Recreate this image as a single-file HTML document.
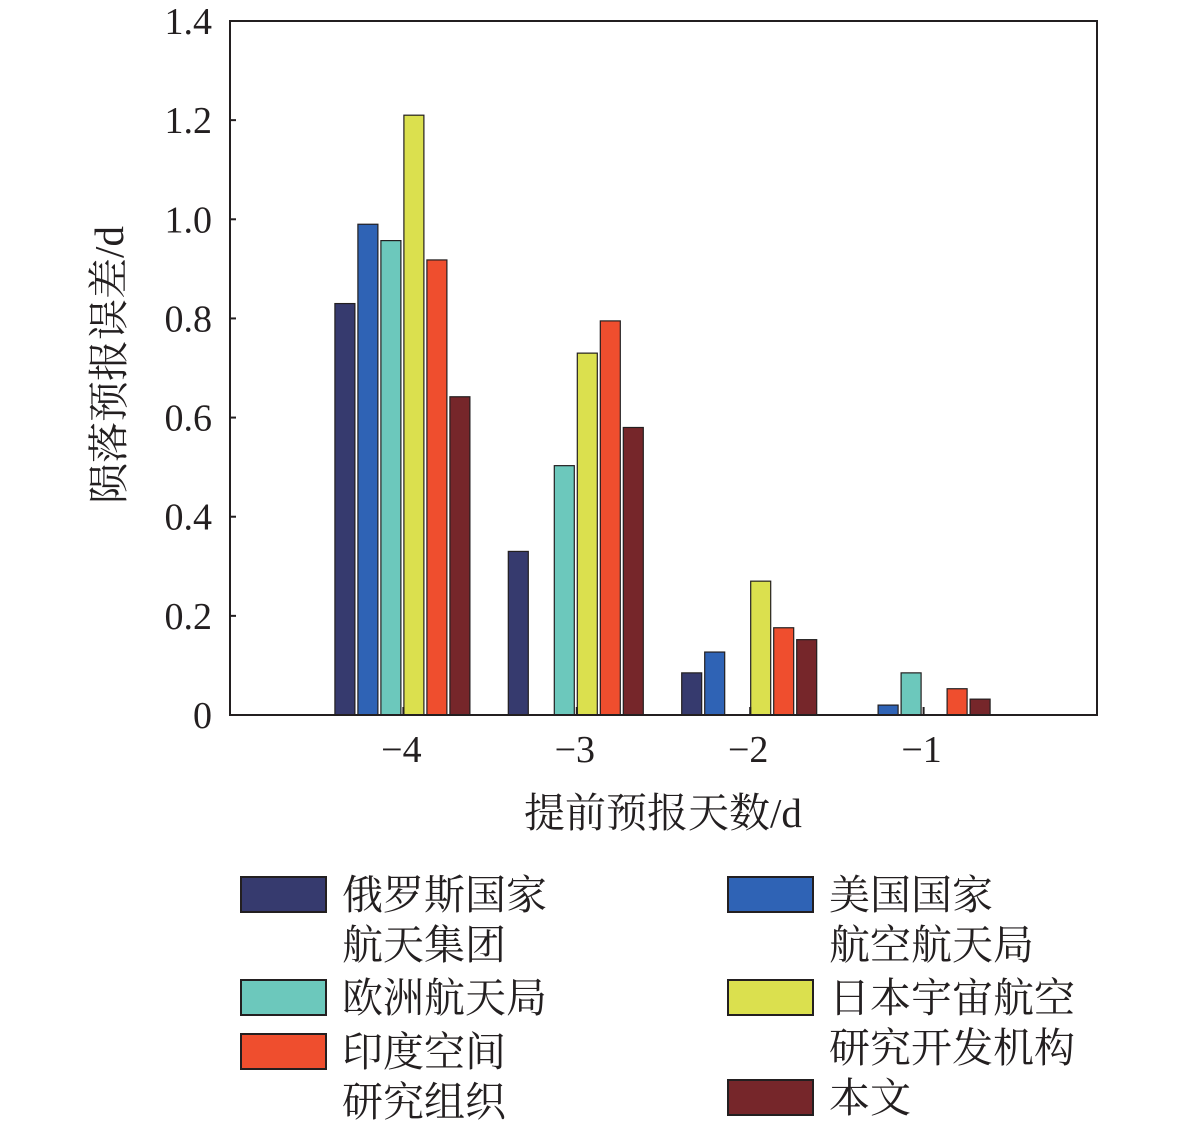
<!DOCTYPE html>
<html><head><meta charset="utf-8"><style>
body{margin:0;background:#fff;}
text{font-family:"Liberation Serif","Noto Serif CJK SC",serif;fill:#231f20;}
</style></head><body>
<svg id="c" width="1181" height="1123" xmlns="http://www.w3.org/2000/svg"></svg>
<script>
const categories=[-4,-3,-2,-1];
const seriesNames=[["俄罗斯国家","航天集团"],["美国国家","航空航天局"],["欧洲航天局"],["日本宇宙航空","研究开发机构"],["印度空间","研究组织"],["本文"]];
const russia=[0.83,0.33,0.085,0];
const usa=[0.99,0,0.127,0.02];
const esa=[0.957,0.503,0,0.085];
const jaxa=[1.21,0.73,0.27,0];
const isro=[0.918,0.795,0.176,0.053];
const ours=[0.642,0.58,0.152,0.032];
const yTicks=[0,0.2,0.4,0.6,0.8,1.0,1.2,1.4];
const yTickLabels=["0","0.2","0.4","0.6","0.8","1.0","1.2","1.4"];
const xTickLabels=["−4","−3","−2","−1"];
const series=[russia,usa,esa,jaxa,isro,ours];
const colors=["#363a6e","#2f63b5","#6cc8bc","#dbe04e","#ef4e2e","#76262a"];
const svg=document.getElementById('c');
const NS="http://www.w3.org/2000/svg";
const L=230,R=1097,T=21,B=715;
const x=v=>L+(v+5)/5*(R-L);
const y=v=>B-v/1.4*(B-T);
function mk(t,a,txt){const e=document.createElementNS(NS,t);for(const k in a)e.setAttribute(k,a[k]);if(txt!==undefined)e.textContent=txt;svg.appendChild(e);return e;}
categories.forEach((c,ci)=>{
  series.forEach((s,si)=>{
    if(s[ci]<=0)return;
    const cx=x(c)+(si-2.5)*23-1;
    const r=mk('rect',{x:cx-10,y:y(s[ci]),width:20,height:B-y(s[ci]),fill:colors[si],stroke:"#231f20","stroke-width":1.2});
    
    
  });
});
const frame=mk('rect',{x:L,y:T,width:R-L,height:B-T,fill:"none",stroke:"#231f20","stroke-width":2});


yTicks.forEach((v,i)=>{
  mk('line',{x1:L,x2:L+6,y1:y(v),y2:y(v),stroke:"#231f20","stroke-width":2});
  const t=mk('text',{x:212,y:y(v)+13,"text-anchor":"end","font-size":38},yTickLabels[i]);
  
  
});
categories.forEach((c,i)=>{
  mk('line',{x1:x(c),x2:x(c),y1:B,y2:B-8,stroke:"#231f20","stroke-width":2});
  const t=mk('text',{x:x(c)-2,y:762,"text-anchor":"middle","font-size":38},xTickLabels[i]);
  
  
});
const xt=mk('text',{x:663,y:827,"text-anchor":"middle","font-size":41},"提前预报天数/d");


const yt=mk('text',{x:0,y:0,transform:"translate(123,365) rotate(-90)","text-anchor":"middle","font-size":41},"陨落预报误差/d");


const pos=[[241,877],[728,877],[241,980],[728,980],[241,1034],[728,1080]];
seriesNames.forEach((n,i)=>{
  const [bx,by]=pos[i];
  const r=mk('rect',{x:bx,y:by,width:85,height:35,fill:colors[i],stroke:"#231f20","stroke-width":2});
  
  
  n.forEach((line,li)=>{
    const t=mk('text',{x:bx+101,y:by+32+li*50,"font-size":41},line);
    
    
  });
});
</script>
</body></html>
